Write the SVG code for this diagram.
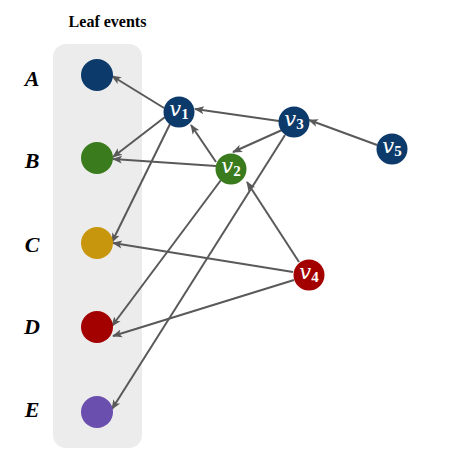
<svg xmlns="http://www.w3.org/2000/svg" width="474" height="452" viewBox="0 0 474 452">
<style>
.edge{stroke:#595959;stroke-width:2;fill:none;marker-end:url(#arr)}
.lbl{font-family:"Liberation Serif",serif;font-weight:bold;font-style:italic;font-size:22px;fill:#000;text-anchor:middle}
.title{font-family:"Liberation Serif",serif;font-weight:bold;font-size:16px;fill:#000;text-anchor:middle}
.nt{font-family:"DejaVu Serif",serif;font-style:italic;font-size:21px;fill:#fff;text-anchor:middle}
.sub{font-family:"Liberation Serif",serif;font-style:normal;font-weight:bold;font-size:15px}
.blue{fill:#0c3b6b}
.green{fill:#3a7b1e}
.gold{fill:#c8960c}
.red{fill:#a30000}
.purple{fill:#6a4fae}
</style>
<defs>
<marker id="arr" markerUnits="userSpaceOnUse" markerWidth="10" markerHeight="10" viewBox="0 0 10 10" refX="9" refY="5" orient="auto">
<path d="M0,1 L10,5 L0,9 L2.5,5 Z" fill="#595959"/>
</marker>
</defs>
<rect x="53" y="44" width="89" height="404" rx="13" fill="#ececec"/>
<text class="title" x="107.5" y="27">Leaf events</text>
<g id="connectors">
<line class="edge" x1="164" y1="108" x2="112" y2="76"/>
<line class="edge" x1="165" y1="117" x2="113" y2="157"/>
<line class="edge" x1="170" y1="124" x2="112" y2="242"/>
<line class="edge" x1="216" y1="166" x2="113" y2="159"/>
<line class="edge" x1="216" y1="162" x2="191" y2="125"/>
<line class="edge" x1="221" y1="180" x2="112" y2="326"/>
<line class="edge" x1="279" y1="121" x2="195" y2="109"/>
<line class="edge" x1="282" y1="130" x2="233" y2="152"/>
<line class="edge" x1="285" y1="135" x2="112" y2="409"/>
<line class="edge" x1="299" y1="262" x2="247" y2="182"/>
<line class="edge" x1="293" y1="272" x2="113" y2="243"/>
<line class="edge" x1="294" y1="280" x2="113" y2="336"/>
<line class="edge" x1="377" y1="145" x2="309" y2="120"/>
</g>
<g id="A"><circle class="blue" cx="97" cy="75" r="16"/><text class="lbl" x="32" y="86">A</text></g>
<g id="B"><circle class="green" cx="97" cy="158" r="16"/><text class="lbl" x="32" y="168">B</text></g>
<g id="C"><circle class="gold" cx="97" cy="243" r="16"/><text class="lbl" x="32" y="252">C</text></g>
<g id="D"><circle class="red" cx="97" cy="327" r="16"/><text class="lbl" x="32" y="334">D</text></g>
<g id="E"><circle class="purple" cx="97" cy="412" r="16"/><text class="lbl" x="32" y="417">E</text></g>
<g id="v1"><circle class="blue" cx="179" cy="112" r="15.5"/><text class="nt" x="179" y="116">v<tspan class="sub" dy="3">1</tspan></text></g>
<g id="v2"><circle class="green" cx="231" cy="169" r="15.5"/><text class="nt" x="231" y="173">v<tspan class="sub" dy="3">2</tspan></text></g>
<g id="v3"><circle class="blue" cx="294" cy="122" r="15.5"/><text class="nt" x="294" y="126">v<tspan class="sub" dy="3">3</tspan></text></g>
<g id="v4"><circle class="red" cx="309" cy="275" r="15.5"/><text class="nt" x="309" y="279">v<tspan class="sub" dy="3">4</tspan></text></g>
<g id="v5"><circle class="blue" cx="392" cy="149" r="15.5"/><text class="nt" x="392" y="153">v<tspan class="sub" dy="3">5</tspan></text></g>
</svg>
